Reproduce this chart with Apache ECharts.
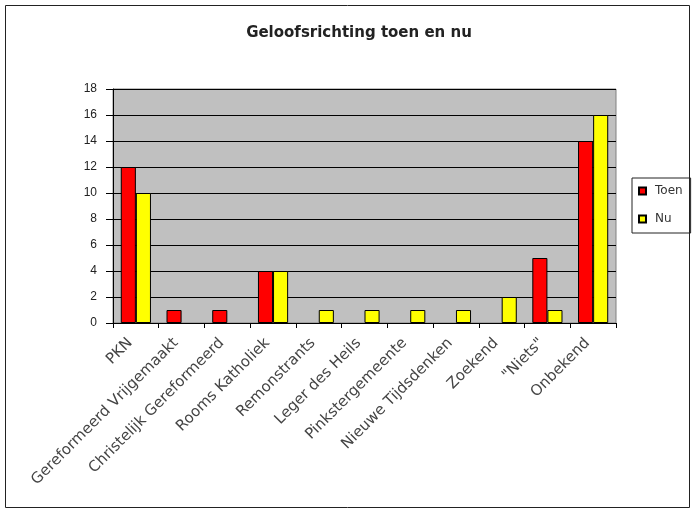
<!DOCTYPE html>
<html>
<head>
<meta charset="utf-8">
<script src="https://cdn.jsdelivr.net/npm/echarts@6/dist/echarts.min.js"></script>
<style>html,body{margin:0;padding:0;background:#fff}#c{width:696px;height:513px}</style>
</head>
<body>
<div id="c"></div>
<script>
const categories = ['PKN', 'Gereformeerd Vrijgemaakt', 'Christelijk Gereformeerd', 'Rooms Katholiek', 'Remonstrants', 'Leger des Heils', 'Pinkstergemeente', 'Nieuwe Tijdsdenken', 'Zoekend', '"Niets"', 'Onbekend'];
const toen = [12, 1, 1, 4, 0, 0, 0, 0, 0, 5, 14];
const nu = [10, 0, 0, 4, 1, 1, 1, 1, 2, 1, 16];
const yTicks = [0, 2, 4, 6, 8, 10, 12, 14, 16, 18];

// zero values draw no bar
const noZero = arr => arr.map(v => (v === 0 ? '-' : v));

const chart = echarts.init(document.getElementById('c'));
const font = 'Liberation Sans, Arial, sans-serif';
const wide = 'DejaVu Sans, Verdana, sans-serif';
chart.setOption({
  animation: false,
  backgroundColor: '#fff',
  textStyle: { fontFamily: font },
  graphic: [{
    type: 'rect', shape: { x: 5.5, y: 5.5, width: 684, height: 502 },
    style: { fill: 'none', stroke: '#222', lineWidth: 1 }, silent: true
  }],
  title: {
    text: 'Geloofsrichting toen en nu',
    left: 354, top: 21, textAlign: 'center',
    textStyle: { fontSize: 15, fontWeight: 'bold', color: '#222', fontFamily: wide }
  },
  legend: {
    orient: 'vertical', left: 632, top: 178,
    data: ['Toen', 'Nu'],
    itemWidth: 7, itemHeight: 7, itemGap: 16,
    borderColor: '#222', borderWidth: 1, padding: [7, 8, 8, 6],
    textStyle: { fontSize: 12, color: '#333', fontFamily: wide, padding: [0, 0, 0, 4] },
    icon: 'rect'
  },
  grid: {
    left: 113, right: 80, top: 89, bottom: 190, show: true,
    backgroundColor: '#C0C0C0', borderColor: '#808080', borderWidth: 1
  },
  xAxis: {
    type: 'category', data: categories,
    axisLine: { lineStyle: { color: '#000' } },
    axisTick: { show: true, inside: false, length: 5, lineStyle: { color: '#000' } },
    axisLabel: { interval: 0, rotate: 45, fontSize: 15, color: '#444', margin: 12,
      padding: [0, 8, 0, 0], fontFamily: wide }
  },
  yAxis: {
    type: 'value', min: 0, max: 18, interval: 2,
    axisLine: { show: true, lineStyle: { color: '#000' } },
    axisTick: { show: true, length: 7, lineStyle: { color: '#000' } },
    axisLabel: { fontSize: 12, color: '#222', margin: 16, fontFamily: font,
      formatter: v => yTicks.includes(v) ? String(v) : '' },
    splitLine: { show: true, lineStyle: { color: '#000', width: 1 } }
  },
  series: [
    { name: 'Toen', type: 'bar', data: noZero(toen), barGap: '0%', barCategoryGap: '34%',
      itemStyle: { color: '#FF0000', borderColor: '#000', borderWidth: 1 } },
    { name: 'Nu', type: 'bar', data: noZero(nu),
      itemStyle: { color: '#FFFF00', borderColor: '#000', borderWidth: 1 } }
  ]
});
</script>
</body>
</html>
